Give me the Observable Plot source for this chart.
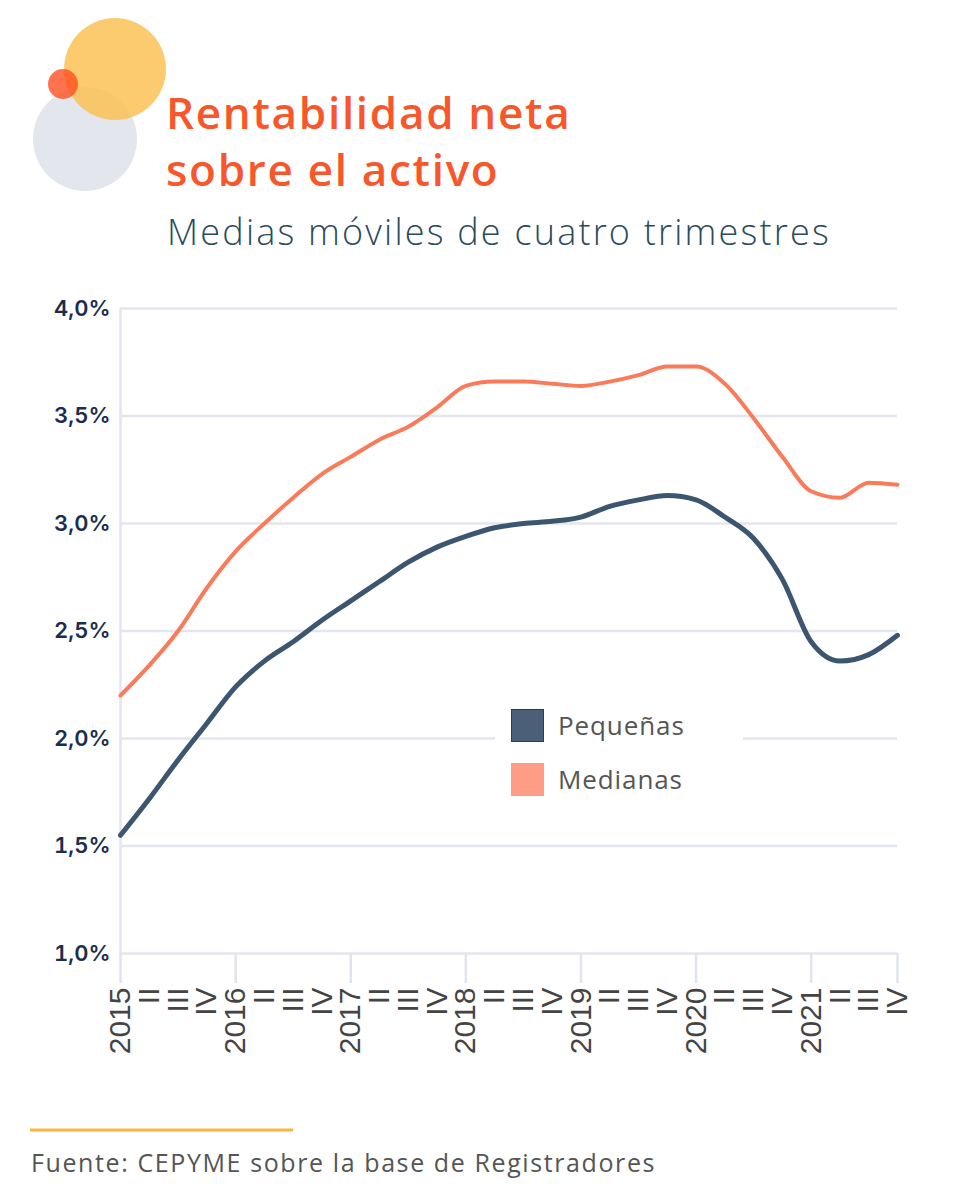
<!DOCTYPE html>
<html>
<head>
<meta charset="utf-8">
<script src="https://cdn.jsdelivr.net/npm/d3@7"></script>
<script src="https://cdn.jsdelivr.net/npm/@observablehq/plot@0.6"></script>
<style>
  html, body { margin: 0; padding: 0; background: #fff; }
  #root { position: relative; width: 962px; height: 1200px; background: #fff; overflow: hidden; }
  #header, #footer { position: absolute; left: 0; }
  #chart { position: absolute; left: 0; top: 290px; }
  #legend { position: absolute; left: 495px; top: 700px; width: 248px; height: 106px; background: #fff; }
  .lg-item { position: absolute; left: 16px; height: 34px; display: flex; align-items: center; }
  .lg-sw { width: 33px; height: 33px; margin-right: 14px; box-sizing: border-box; }
  .lg-tx { font-family: "Open Sans", sans-serif; font-size: 26px; color: #555; letter-spacing: 0.9px; }
</style>
</head>
<body>
<div id="root">
  <svg id="header" width="962" height="290" style="top:0">
    <circle cx="85" cy="139" r="52" fill="#e3e6ec"></circle>
    <circle cx="115" cy="69" r="51" fill="#fdc04f" fill-opacity="0.82"></circle>
    <circle cx="63" cy="84" r="15" fill="#ff4a1c" fill-opacity="0.78"></circle>
    <text x="166" y="129" font-family="Open Sans" font-weight="600" font-size="44" fill="#f7572b" letter-spacing="1.7">Rentabilidad neta</text>
    <text x="166" y="186" font-family="Open Sans" font-weight="600" font-size="44" fill="#f7572b" letter-spacing="1.7">sobre el activo</text>
    <text x="167" y="245" font-family="Open Sans" font-weight="300" font-size="36" fill="#2b4a5e" letter-spacing="2.2">Medias móviles de cuatro trimestres</text>
  </svg>
  <div id="chart"></div>
  <div id="legend"></div>
  <svg id="footer" width="962" height="100" style="top:1110px">
    <line x1="30" x2="293" y1="20" y2="20" stroke="#fbb53c" stroke-width="3"></line>
    <text x="31" y="62" font-family="Open Sans" font-weight="400" font-size="25" fill="#555" letter-spacing="1.6">Fuente: CEPYME sobre la base de Registradores</text>
  </svg>
</div>
<script>
// ---- Data ----
const quarters = ["2015","II","III","IV","2016","II","III","IV","2017","II","III","IV",
                  "2018","II","III","IV","2019","II","III","IV","2020","II","III","IV",
                  "2021","II","III","IV"];
const pequenas = [1.55,1.72,1.90,2.07,2.24,2.36,2.45,2.55,2.64,2.73,2.82,2.89,
                  2.94,2.98,3.00,3.01,3.03,3.08,3.11,3.13,3.11,3.03,2.93,2.74,
                  2.45,2.36,2.39,2.48];
const medianas = [2.20,2.34,2.50,2.70,2.87,3.00,3.12,3.23,3.31,3.39,3.45,3.54,
                  3.64,3.66,3.66,3.65,3.64,3.66,3.69,3.73,3.73,3.65,3.49,3.31,
                  3.15,3.12,3.19,3.18];
const seriesNames = ["Pequeñas", "Medianas"];
const seriesColors = ["#3d566f", "#fa7b5a"];
const legendColors = ["#4a5f78", "#ff9c86"];
const yTicks = [1.0, 1.5, 2.0, 2.5, 3.0, 3.5, 4.0];
const yearTickIdx = [0, 4, 8, 12, 16, 20, 24, 27];

const rows = [];
quarters.forEach((q, i) => {
  rows.push({i, v: pequenas[i], serie: seriesNames[0]});
  rows.push({i, v: medianas[i], serie: seriesNames[1]});
});

const fmt = d => d.toFixed(1).replace(".", ",") + "%";

const chart = Plot.plot({
  width: 962,
  height: 790,
  marginTop: 18,
  marginLeft: 120,
  marginRight: 65,
  marginBottom: 127,
  x: {domain: [0, quarters.length - 1], axis: null},
  y: {domain: [1, 4], axis: null},
  color: {domain: seriesNames, range: seriesColors},
  marks: [
    Plot.gridY(yTicks, {stroke: "#e3e6ee", strokeOpacity: 1, strokeWidth: 2.5}),
    Plot.ruleX([0], {stroke: "#e3e6ee", strokeWidth: 2.5}),
    Plot.axisX(yearTickIdx, {tickSize: 30, tickFormat: () => "", stroke: "#e1e4ec", strokeWidth: 2.5, strokeOpacity: 1, label: null}),
    Plot.axisX(d3.range(quarters.length), {
      tickSize: 0, tickPadding: 34, tickRotate: -90,
      tickFormat: i => quarters[i],
      fontSize: 30, fontFamily: "Liberation Sans", fill: "#444", label: null
    }),
    Plot.axisY(yTicks, {
      tickSize: 0, tickPadding: 10, tickFormat: fmt,
      fontSize: 22, fontWeight: 600, fontFamily: "Inter", fill: "#1b2d4f", label: null
    }),
    Plot.line(rows.filter(d => d.serie === seriesNames[1]), {x: "i", y: "v", stroke: "serie", curve: "monotone-x", strokeWidth: 4}),
    Plot.line(rows.filter(d => d.serie === seriesNames[0]), {x: "i", y: "v", stroke: "serie", curve: "monotone-x", strokeWidth: 5})
  ]
});
document.getElementById("chart").appendChild(chart);

// legend
const lg = document.getElementById("legend");
seriesNames.forEach((name, k) => {
  const item = document.createElement("div");
  item.className = "lg-item";
  item.style.top = (8 + k * 54) + "px";
  const sw = document.createElement("div");
  sw.className = "lg-sw";
  sw.style.background = legendColors[k];
  if (k === 0) sw.style.border = "1.5px solid #253f5c";
  const tx = document.createElement("span");
  tx.className = "lg-tx";
  tx.textContent = name;
  item.appendChild(sw); item.appendChild(tx);
  lg.appendChild(item);
});
</script>
</body>
</html>
